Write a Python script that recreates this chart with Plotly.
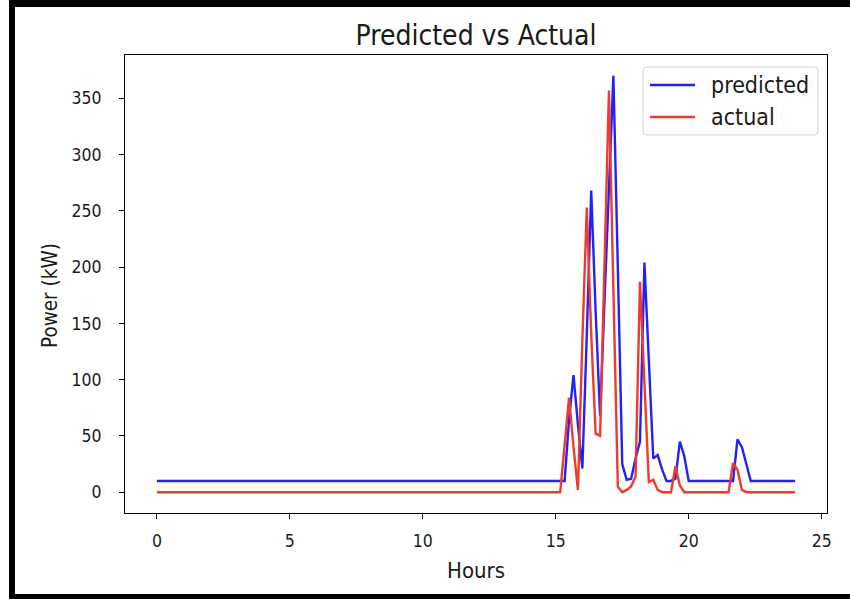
import plotly.graph_objects as go

# 10-minute samples over 24 hours
hours = [i / 6 for i in range(145)]

predicted = ([10] * 93 +
             [65, 104, 60, 21, 140, 268, 160, 68, 170, 270, 370, 200, 25, 11,
              12, 30, 45, 204, 115, 30, 33, 20, 10, 10, 12, 45, 32, 10] +
             [10] * 10 +
             [47, 40, 25] +
             [10] * 11)

actual = ([0] * 92 +
          [42, 84, 40, 2, 135, 253, 140, 52, 50, 200, 357, 180, 5, 0,
           2, 5, 14, 187, 95, 9, 11, 2, 0, 0, 0, 23, 6, 0] +
          [0] * 10 +
          [26, 20, 2] +
          [0] * 12)

series_names = ["predicted", "actual"]
series_colors = ["#2222f6", "#ee3b2e"]

x_ticks = [0, 5, 10, 15, 20, 25]
y_ticks = [0, 50, 100, 150, 200, 250, 300, 350]

FONT = "DejaVu Sans Condensed, DejaVu Sans"
TXT = "#1a1a1a"

fig = go.Figure()
for name, vals, col in zip(series_names, [predicted, actual], series_colors):
    fig.add_trace(go.Scatter(x=hours, y=vals, mode="lines", name=name,
                             line=dict(color=col, width=2.4),
                             showlegend=False))

L, R, T, B = 125, 827, 55, 513
W, H = 850, 602


def px(xp):
    return (xp - L) / (R - L)


def py(yp):
    return (B - yp) / (B - T)


shapes = []
# black frame around the picture
for x0, x1, y0, y1 in [(9, 15, 0, 599), (9, 850, 0, 7), (9, 850, 594, 599)]:
    shapes.append(dict(type="rect", xref="paper", yref="paper",
                       x0=px(x0), x1=px(x1), y0=py(y1), y1=py(y0),
                       fillcolor="black", line=dict(width=0), layer="above"))

# legend box (rounded)
bx0, bx1, by0, by1, r = 643, 818, 67, 135, 4
path = (f"M{px(bx0 + r)},{py(by0)} L{px(bx1 - r)},{py(by0)} "
        f"Q{px(bx1)},{py(by0)} {px(bx1)},{py(by0 + r)} "
        f"L{px(bx1)},{py(by1 - r)} Q{px(bx1)},{py(by1)} {px(bx1 - r)},{py(by1)} "
        f"L{px(bx0 + r)},{py(by1)} Q{px(bx0)},{py(by1)} {px(bx0)},{py(by1 - r)} "
        f"L{px(bx0)},{py(by0 + r)} Q{px(bx0)},{py(by0)} {px(bx0 + r)},{py(by0)} Z")
shapes.append(dict(type="path", xref="paper", yref="paper", path=path,
                   fillcolor="rgba(255,255,255,0.85)",
                   line=dict(color="#d0d0d0", width=1), layer="above"))

annotations = []
for i, (name, col) in enumerate(zip(series_names, series_colors)):
    yc = 85 + 32 * i
    shapes.append(dict(type="line", xref="paper", yref="paper",
                       x0=px(650), x1=px(695), y0=py(yc), y1=py(yc),
                       line=dict(color=col, width=2.4), layer="above"))
    annotations.append(dict(text=name, xref="paper", yref="paper",
                            x=px(709), y=py(yc), xanchor="left", yanchor="middle",
                            showarrow=False,
                            font=dict(family=FONT, size=23, color=TXT)))

annotations.append(dict(text="Power (kW)", xref="paper", yref="paper",
                        x=px(50), y=py(296), xanchor="center", yanchor="middle",
                        textangle=-90, showarrow=False,
                        font=dict(family=FONT, size=20.5, color=TXT)))

fig.update_layout(
    width=W, height=H,
    margin=dict(l=L, r=W - R, t=T, b=H - B),
    paper_bgcolor="white", plot_bgcolor="white",
    font=dict(family=FONT, size=17, color=TXT),
    title=dict(text="Predicted vs Actual", xref="paper", x=px(476),
               xanchor="center", y=1 - 35 / H, yanchor="middle",
               font=dict(family=FONT, size=28, color=TXT)),
    xaxis=dict(range=[-1.2, 25.2], tickvals=x_ticks, ticks="outside", ticklen=5,
               tickcolor="black", showgrid=False, zeroline=False,
               showline=True, mirror=True, linecolor="black", linewidth=1,
               ticklabelstandoff=7,
               tickfont=dict(size=17.5, color=TXT),
               title=dict(text="Hours", standoff=12, font=dict(size=22, color=TXT))),
    yaxis=dict(range=[-18.5, 388.5], tickvals=y_ticks, ticks="outside", ticklen=5,
               tickcolor="black", showgrid=False, zeroline=False,
               showline=True, mirror=True, linecolor="black", linewidth=1,
               ticklabelstandoff=14,
               tickfont=dict(size=17.5, color=TXT)),
    shapes=shapes,
    annotations=annotations,
    showlegend=False,
)

fig.write_html("out.html", post_script="document.body.style.margin='0px';",
               config={"displayModeBar": False})
